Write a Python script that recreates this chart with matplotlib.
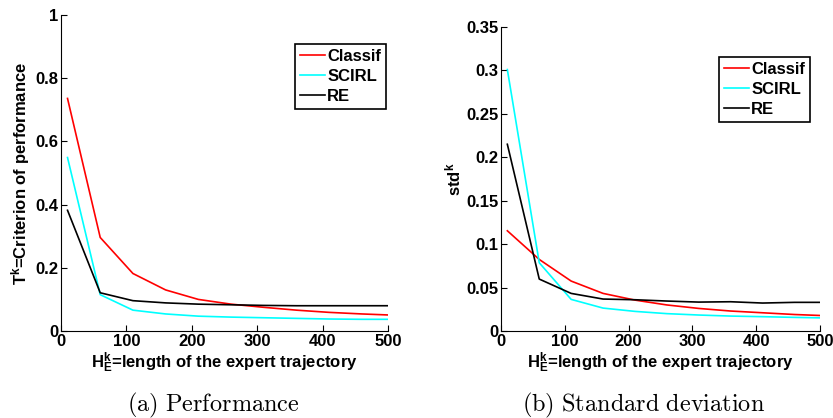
import numpy as np
import matplotlib
matplotlib.use("Agg")
import matplotlib.pyplot as plt

plt.rcParams['font.family'] = ['Liberation Sans', 'DejaVu Sans']
plt.rcParams['font.weight'] = 'bold'
plt.rcParams['axes.labelweight'] = 'bold'
plt.rcParams['mathtext.fontset'] = 'custom'
plt.rcParams['mathtext.rm'] = 'Liberation Sans:bold'
plt.rcParams['mathtext.bf'] = 'Liberation Sans:bold'
plt.rcParams['mathtext.it'] = 'Liberation Sans:bold'
plt.rcParams['mathtext.default'] = 'bf'

# trajectory lengths
H = [10, 60, 110, 160, 210, 260, 310, 360, 410, 460, 510]

# (a) performance criterion
perf_classif = [0.736, 0.296, 0.182, 0.130, 0.100, 0.085, 0.075, 0.066, 0.059, 0.054, 0.050]
perf_scirl = [0.549, 0.115, 0.066, 0.054, 0.047, 0.044, 0.042, 0.040, 0.038, 0.037, 0.037]
perf_re = [0.382, 0.121, 0.096, 0.089, 0.085, 0.083, 0.081, 0.080, 0.080, 0.080, 0.080]

# (b) standard deviation
std_classif = [0.1154, 0.0824, 0.0575, 0.0433, 0.0356, 0.030, 0.026, 0.023, 0.021, 0.019, 0.0176]
std_scirl = [0.301, 0.0786, 0.0364, 0.0264, 0.0226, 0.020, 0.0184, 0.0172, 0.0165, 0.0157, 0.015]
std_re = [0.215, 0.0598, 0.0433, 0.0368, 0.036, 0.0345, 0.0333, 0.0337, 0.0322, 0.033, 0.033]

labels = ['Classif', 'SCIRL', 'RE']
colors = ['#ff0000', '#00ffff', '#000000']

fig = plt.figure(figsize=(8.33, 4.18), dpi=100)
ax1 = fig.add_axes([0.0732, 0.2081, 0.3926, 0.756])
ax2 = fig.add_axes([0.6014, 0.2081, 0.383, 0.7273])


def style(ax, series, ylim, yticks, yticklabels, ylabel, leg_anchor):
    for ys, lab, c in zip(series, labels, colors):
        ax.plot(H, ys, color=c, lw=1.2, label=lab)
    ax.set_xlim(0, 500)
    ax.set_ylim(*ylim)
    ax.set_xticks([0, 100, 200, 300, 400, 500])
    ax.set_yticks(yticks)
    ax.set_yticklabels(yticklabels)
    ax.spines['top'].set_visible(False)
    ax.spines['right'].set_visible(False)
    ax.tick_params(direction='in', length=4, labelsize=12, pad=2)
    ax.set_xlabel(r'H$_{E}^{k}$=length of the expert trajectory', fontsize=12, labelpad=1)
    ax.set_ylabel(ylabel, fontsize=12, labelpad=2)
    leg = ax.legend(loc='upper right', bbox_to_anchor=leg_anchor, fontsize=12,
                    fancybox=False, edgecolor='black', framealpha=1,
                    handlelength=1.5, handletextpad=0.15, borderpad=0.3,
                    labelspacing=0.3, borderaxespad=0)
    leg.get_frame().set_linewidth(1.2)


style(ax1, [perf_classif, perf_scirl, perf_re], (0, 1),
      [0, 0.2, 0.4, 0.6, 0.8, 1], ['0', '0.2', '0.4', '0.6', '0.8', '1'],
      r'T$^{k}$=Criterion of performance', (0.994, 0.908))
style(ax2, [std_classif, std_scirl, std_re], (0, 0.35),
      [0, 0.05, 0.1, 0.15, 0.2, 0.25, 0.3, 0.35],
      ['0', '0.05', '0.1', '0.15', '0.2', '0.25', '0.3', '0.35'],
      r'std$^{k}$', (0.969, 0.901))

fig.text(0.256, 0.031, r'$\mathrm{(a)\ Performance}$', ha='center', va='center',
         fontsize=17.5, math_fontfamily='cm')
fig.text(0.773, 0.031, r'$\mathrm{(b)\ Standard\ deviation}$', ha='center', va='center',
         fontsize=17.5, math_fontfamily='cm')

fig.savefig('out.png', dpi=100)
